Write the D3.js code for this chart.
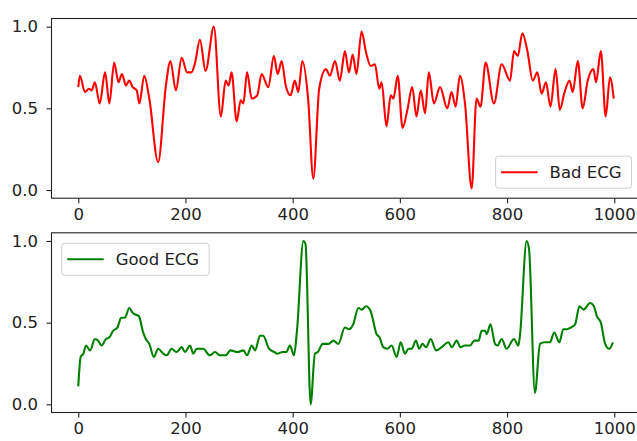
<!DOCTYPE html>
<html><head><meta charset="utf-8">
<script src="https://cdn.jsdelivr.net/npm/d3@7"></script>
<style>body{margin:0;background:#fff}svg{display:block}</style>
</head><body>
<svg id="c" width="637" height="441"></svg>
<script>
const badX = [0,3,12.5,20,25,31,40,50,58,67,75,81.5,89,95,101.5,109,114,123,132.5,149,163.5,172,182,193,203,211,218,227,237.5,253,266,275,280.5,286,295.5,303,308,315,323.5,334,342,354.5,365,372,379.5,387,396,404,410.5,418,429,438.5,449.5,462,469.5,479,488,497.5,505,512,519,528.5,537,545.5,553.5,561.5,566,575,583,588,596,605,614,623,631,639,647,654,663.5,675,688.5,696.5,704,712,721.5,734,743,750.5,760,775.5,790,805.5,813,820,828.5,838,848,856.5,864.5,872.5,881,890.5,898.5,906.5,916.5,922.5,932,941,950.5,961,966,975,984,992,999];
const badY = [0.63,0.70,0.60,0.62,0.61,0.66,0.53,0.72,0.53,0.78,0.66,0.71,0.64,0.67,0.63,0.61,0.53,0.70,0.56,0.17,0.64,0.79,0.61,0.81,0.72,0.72,0.78,0.92,0.73,1.00,0.45,0.67,0.64,0.72,0.42,0.55,0.53,0.72,0.56,0.58,0.71,0.63,0.82,0.71,0.79,0.64,0.58,0.67,0.60,0.79,0.55,0.07,0.62,0.74,0.70,0.79,0.67,0.85,0.72,0.83,0.71,0.97,0.84,0.76,0.77,0.62,0.66,0.39,0.58,0.56,0.70,0.38,0.49,0.63,0.45,0.61,0.47,0.72,0.53,0.63,0.50,0.60,0.51,0.70,0.53,0.01,0.56,0.51,0.78,0.53,0.77,0.67,0.85,0.82,0.96,0.85,0.67,0.72,0.59,0.66,0.51,0.74,0.49,0.59,0.67,0.60,0.79,0.50,0.67,0.74,0.66,0.85,0.45,0.69,0.56];

const goodX = [0,4.5,9.5,14.5,22,31,37,43.5,51.5,58,65,73,80,87,95,101.5,106,113,121,126,132.5,141,149,158.5,165,174,183.5,193,199,208.5,214.5,221,233,245.5,255,264.5,275,284,297,308,315,323.5,330,339,345,356,366,371,381,388,395,402.5,408,420,424,433.5,441.5,447,456,467,476,485,497.5,505,513,522.5,528.5,537,545.5,556.5,562,569,577,584.5,594,601.5,609.5,616,622,630,636,642,649,657.5,667.5,678,690.5,697,706,713,721,731,739,747,752.5,759,762,769,777.5,782,790,799,813,821,824,836.5,841,852,861.5,870,880,888,897.5,905,912,919,927,935,942.5,955,962,967.5,975,983,990.5,997.5];
const goodY = [0.11,0.29,0.31,0.36,0.33,0.40,0.39,0.36,0.40,0.41,0.45,0.47,0.53,0.53,0.59,0.56,0.55,0.54,0.44,0.40,0.37,0.29,0.34,0.31,0.30,0.34,0.32,0.35,0.32,0.36,0.31,0.34,0.34,0.30,0.32,0.30,0.30,0.33,0.32,0.33,0.30,0.36,0.33,0.42,0.42,0.34,0.32,0.31,0.32,0.32,0.36,0.30,0.45,1.00,0.98,0.00,0.31,0.32,0.37,0.37,0.39,0.37,0.47,0.46,0.49,0.59,0.58,0.60,0.57,0.43,0.41,0.35,0.34,0.36,0.29,0.38,0.31,0.34,0.34,0.39,0.34,0.37,0.35,0.40,0.33,0.35,0.38,0.35,0.39,0.35,0.36,0.36,0.39,0.39,0.45,0.45,0.43,0.49,0.37,0.36,0.40,0.34,0.40,0.36,0.42,1.00,0.95,0.07,0.37,0.38,0.38,0.44,0.38,0.46,0.46,0.47,0.49,0.60,0.58,0.62,0.60,0.54,0.50,0.37,0.34,0.38];

const xTicks = [0,200,400,600,800,1000];
const yTicks = [0,0.5,1.0];
const yTickLabels = ["0.0","0.5","1.0"];
const seriesNames = ["Bad ECG","Good ECG"];
const seriesColors = ["#ff0000","#008000"];

const svg = d3.select("#c");
const FONT = "DejaVu Sans";
const FS = 16.5;
const x = d3.scaleLinear().domain([-49.95, 1048.95]).range([51.5, 640.5]);

const panels = [
  {xs: badX, ys: badY, top: 18.5, bottom: 198.2, legend: "lr"},
  {xs: goodX, ys: goodY, top: 232.8, bottom: 412.5, legend: "ul"}
];

panels.forEach((p, i) => {
  const y = d3.scaleLinear().domain([-0.05, 1.05]).range([p.bottom, p.top]);
  const g = svg.append("g");
  const data = p.xs.map((v, k) => [v, p.ys[k]]);
  const line = d3.line().x(d => x(d[0])).y(d => y(d[1])).curve(d3.curveMonotoneX);
  g.append("path").attr("d", line(data)).attr("fill", "none")
    .attr("stroke", seriesColors[i]).attr("stroke-width", 2.1).attr("stroke-linejoin", "round");

  const xa = g.append("g").attr("transform", `translate(0,${p.bottom})`)
    .call(d3.axisBottom(x).tickValues(xTicks).tickSize(5).tickPadding(5).tickFormat(d3.format("d")));
  const ya = g.append("g").attr("transform", `translate(${x.range()[0]},0)`)
    .call(d3.axisLeft(y).tickValues(yTicks).tickSize(5).tickPadding(8.5).tickFormat((d, k) => yTickLabels[k]));
  [xa, ya].forEach(a => {
    a.select(".domain").remove();
    a.selectAll("line").attr("stroke", "#222").attr("stroke-width", 1.1);
    a.selectAll("text").attr("font-family", FONT).attr("font-size", FS).attr("fill", "#222");
  });
  g.append("rect").attr("x", x.range()[0]).attr("y", p.top)
    .attr("width", x.range()[1] - x.range()[0]).attr("height", p.bottom - p.top)
    .attr("fill", "none").attr("stroke", "#222").attr("stroke-width", 1.1);

  const lg = g.append("g");
  const box = lg.append("rect").attr("rx", 3).attr("fill", "#fff").attr("fill-opacity", 0.8)
    .attr("stroke", "#d0d0d0").attr("stroke-width", 1);
  const txt = lg.append("text").text(seriesNames[i]).attr("font-family", FONT)
    .attr("font-size", FS).attr("fill", "#222");
  const tw = txt.node().getComputedTextLength();
  const bw = tw + 64, bh = 32;
  let bx, by;
  if (p.legend === "lr") { bx = 636 - 4.5 - bw; by = p.bottom - 10 - bh; }
  else { bx = 61.7; by = p.top + 10.5; }
  box.attr("x", bx).attr("y", by).attr("width", bw).attr("height", bh);
  lg.append("line").attr("x1", bx + 5.5).attr("x2", bx + 42).attr("y1", by + bh / 2).attr("y2", by + bh / 2)
    .attr("stroke", seriesColors[i]).attr("stroke-width", 2.1);
  txt.attr("x", bx + 54).attr("y", by + bh / 2 + 6);
});
</script>
</body></html>
